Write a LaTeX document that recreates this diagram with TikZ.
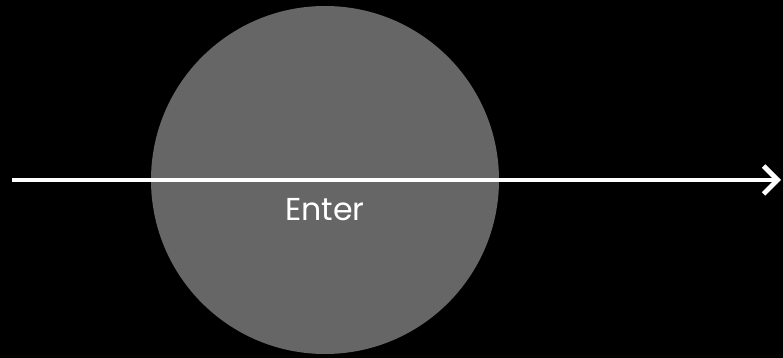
\documentclass[tikz,border=0pt]{standalone}
\usepackage{fontspec}
\setmainfont{Poppins}
\usetikzlibrary{positioning,arrows.meta}
\definecolor{diskgray}{RGB}{102,102,102}
\tikzset{
  flowline/.style={-{Straight Barb[length=2.8mm, width=5.6mm]}, white, line width=2.8pt},
  disk/.style={circle, fill=diskgray, minimum size=6.96cm, inner sep=0pt},
  tag/.style={text=white, font=\fontsize{18}{20}\selectfont, inner sep=0pt}
}
\begin{document}
\begin{tikzpicture}
  \fill[black] (0,0) rectangle (15.66,7.16);
  \useasboundingbox (0,0) rectangle (15.66,7.16);
  \node[disk] (disk) at (6.5,3.56) {};
  \node[tag] (enter) at (6.5,2.96) {Enter};
  \coordinate (start) at (0.24,3.56);
  \coordinate (end) at (15.62,3.56);
  \draw[flowline] (start) -- (end);
\end{tikzpicture}
\end{document}
